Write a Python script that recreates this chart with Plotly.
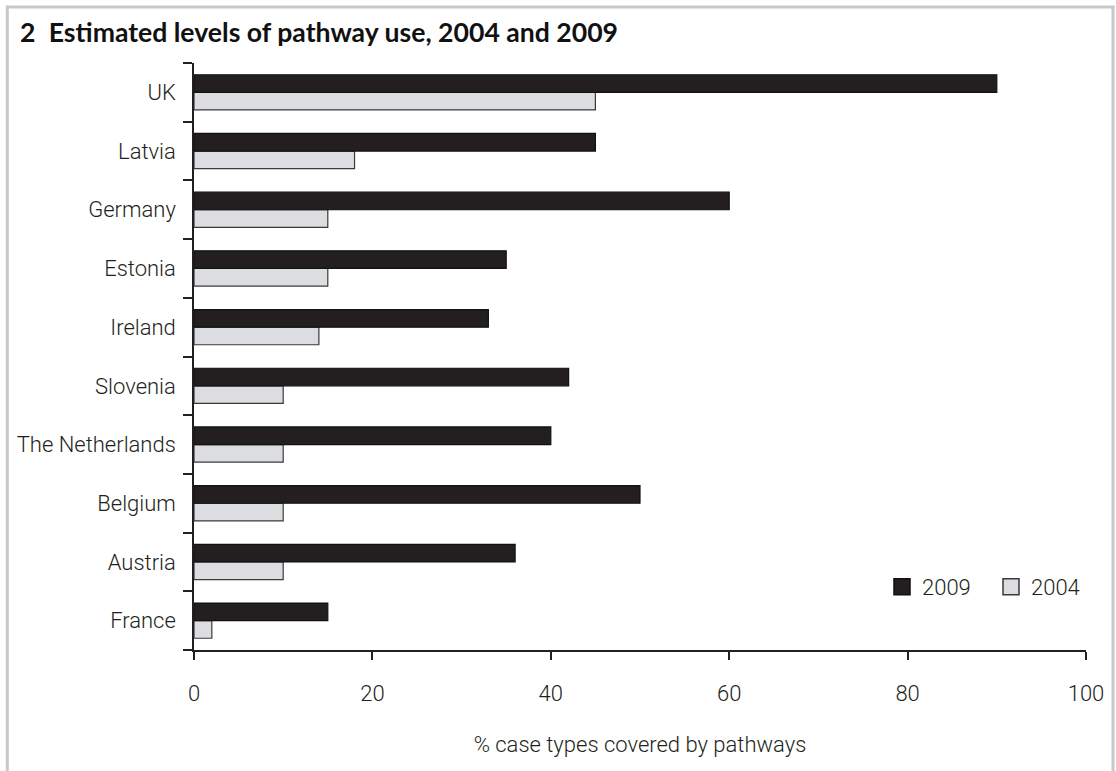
import plotly.graph_objects as go

# Data (listed top-to-bottom as in the chart)
countries = ["UK", "Latvia", "Germany", "Estonia", "Ireland", "Slovenia",
             "The Netherlands", "Belgium", "Austria", "France"]
values_2009 = [90, 45, 60, 35, 33, 42, 40, 50, 36, 15]
values_2004 = [45, 18, 15, 15, 14, 10, 10, 10, 10, 2]
x_ticks = [0, 20, 40, 60, 80, 100]

cats = countries[::-1]
v09 = values_2009[::-1]
v04 = values_2004[::-1]

TXT = "#231f20"
DARK = "#231f20"
LIGHT = "#dcdde0"
FONT = "Roboto, Liberation Sans, Arial, sans-serif"
TF = dict(family=FONT, size=22, color=TXT, weight=300)

fig = go.Figure()
fig.add_trace(go.Bar(
    y=cats, x=v04, orientation="h", name="2004", showlegend=False,
    marker=dict(color=LIGHT, line=dict(color="#3a3a3a", width=1.2)),
))
fig.add_trace(go.Bar(
    y=cats, x=v09, orientation="h", name="2009", showlegend=False,
    marker=dict(color=DARK, line=dict(color="#111111", width=1.2)),
))
# legend-only entries with larger square swatches
fig.add_trace(go.Scatter(
    x=[None], y=[None], mode="markers", name="2009", legendrank=1,
    marker=dict(symbol="square", size=16, color=DARK,
                line=dict(color="#111111", width=1.5)),
))
fig.add_trace(go.Scatter(
    x=[None], y=[None], mode="markers", name="2004", legendrank=2,
    marker=dict(symbol="square", size=16, color=LIGHT,
                line=dict(color="#3a3a3a", width=1.5)),
))

W, H = 1116, 771
L, R, T, B = 194, 30, 63, 121
pw, ph = W - L - R, H - T - B

def px_x(p):
    return (p - L) / pw

def px_y(p):
    return (H - B - p) / ph

fig.update_layout(
    width=W, height=H,
    margin=dict(l=L, r=R, t=T, b=B, pad=0, autoexpand=False),
    paper_bgcolor="white", plot_bgcolor="white",
    barmode="group", bargap=0.4, bargroupgap=0,
    font=TF,
    title=dict(
        text="<b>2\u2002Estimated levels of pathway use, 2004 and 2009</b>",
        font=dict(family="Lato, sans-serif", size=26.6, color="#111111"),
        xref="container", yref="container",
        x=20 / W, xanchor="left", y=1 - 33 / H, yanchor="middle",
    ),
    xaxis=dict(
        range=[0, 100], tickvals=x_ticks, showgrid=False, zeroline=False,
        showline=True, linecolor=TXT, linewidth=1.5,
        ticks="outside", ticklen=8, tickwidth=1.5, tickcolor=TXT,
        ticklabelstandoff=15,
        title=dict(text="% case types covered by pathways", standoff=31,
                   font=TF),
        tickfont=TF,
    ),
    yaxis=dict(
        categoryorder="array", categoryarray=cats,
        showgrid=False, zeroline=False,
        showline=True, linecolor=TXT, linewidth=1.5,
        ticks="outside", tickson="boundaries", ticklen=9, tickwidth=1.5,
        tickcolor=TXT, ticklabelstandoff=12,
        tickfont=TF,
    ),
    legend=dict(
        orientation="h", x=px_x(882), xanchor="left",
        y=px_y(587), yanchor="middle",
        font=TF, bgcolor="rgba(0,0,0,0)",
        itemwidth=30, itemsizing="trace", entrywidth=64,
    ),
    showlegend=True,
)

# light grey frame around the figure (open at bottom)
frame = dict(type="line", xref="paper", yref="paper",
             line=dict(color="#c8c8c8", width=3), layer="below")
fig.add_shape(**frame, x0=px_x(7.3), x1=px_x(7.3), y0=px_y(6), y1=px_y(800))
fig.add_shape(**frame, x0=px_x(1113), x1=px_x(1113), y0=px_y(6), y1=px_y(800))
fig.add_shape(**frame, x0=px_x(6), x1=px_x(1114.5), y0=px_y(7), y1=px_y(7))

fig.write_html("out.html")
